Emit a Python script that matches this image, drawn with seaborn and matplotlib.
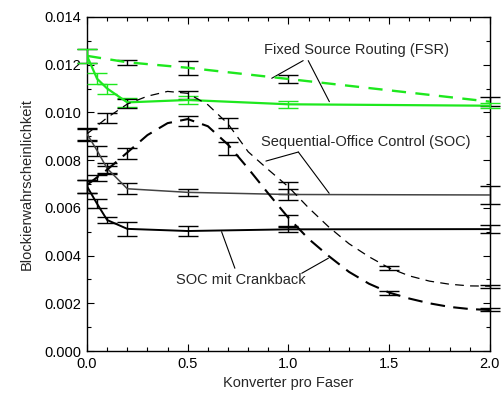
import numpy as np
import pandas as pd
import seaborn as sns
import matplotlib
matplotlib.use("Agg")
import matplotlib.pyplot as plt
from matplotlib.ticker import MultipleLocator, FormatStrFormatter

# curve samples
x_curve = [0.0, 0.1, 0.2, 0.3, 0.4, 0.5, 0.6, 0.7, 0.8, 0.9, 1.0,
           1.1, 1.2, 1.3, 1.4, 1.5, 1.6, 1.7, 1.8, 1.9, 2.0]
soc_dash = [0.00910, 0.00978, 0.01035, 0.01068, 0.01088, 0.01080, 0.01032,
            0.00952, 0.00835, 0.00760, 0.00688, 0.00600, 0.00520, 0.00450,
            0.00395, 0.00348, 0.00315, 0.00293, 0.00280, 0.00273, 0.00272]
crank_dash = [0.00696, 0.00760, 0.00832, 0.00905, 0.00955, 0.00972, 0.00942,
              0.00865, 0.00765, 0.00660, 0.00558, 0.00470, 0.00398, 0.00332,
              0.00282, 0.00245, 0.00220, 0.00200, 0.00185, 0.00176, 0.00172]

# FSR (green)
fsr_dash_x = [0.0, 0.2, 0.5, 1.0, 2.0]
fsr_dash_y = [0.01237, 0.01210, 0.01187, 0.01140, 0.01045]
fsr_dash_err = [0.00029, 0.00010, 0.00030, 0.00017, 0.00019]

fsr_x = [0.0, 0.05, 0.1, 0.2, 0.5, 1.0, 2.0]
fsr_y = [0.01237, 0.01141, 0.01100, 0.01042, 0.01052, 0.01034, 0.01028]
fsr_err = [0.00029, 0.00023, 0.00021, 0.00018, 0.00015, 0.00015, 0.00010]

# SOC solid
soc_x = [0.0, 0.05, 0.1, 0.2, 0.5, 1.0, 2.0]
soc_y = [0.00910, 0.00840, 0.00765, 0.00680, 0.00665, 0.00656, 0.00654]
soc_err = [0.00024, 0.00021, 0.00023, 0.00023, 0.00016, 0.00022, 0.00037]

# SOC mit Crankback solid
crank_x = [0.0, 0.05, 0.1, 0.2, 0.5, 1.0, 2.0]
crank_y = [0.00690, 0.00617, 0.00549, 0.00512, 0.00503, 0.00510, 0.00511]
crank_err = [0.00026, 0.00019, 0.00014, 0.00030, 0.00019, 0.00012, 0.00017]

# error bars on the dashed curves
soc_dash_bx = [0.0, 0.1, 0.2, 0.5, 0.7, 1.0, 1.5, 2.0]
soc_dash_by = [0.00905, 0.00978, 0.01037, 0.01073, 0.00957, 0.00682, 0.00348, 0.00272]
soc_dash_be = [0.00024, 0.00021, 0.00019, 0.00017, 0.00021, 0.00025, 0.00008, 0.00006]

crank_dash_bx = [0.0, 0.05, 0.1, 0.2, 0.5, 0.7, 1.0, 1.5, 2.0]
crank_dash_by = [0.00690, 0.00725, 0.00760, 0.00828, 0.00965, 0.00850, 0.00545, 0.00243, 0.00175]
crank_dash_be = [0.00026, 0.00014, 0.00015, 0.00024, 0.00021, 0.00028, 0.00025, 0.00010, 0.00007]

GREEN = "#1ee81e"

sns.set_style("ticks")
plt.rcParams["font.family"] = ["Liberation Sans", "DejaVu Sans"]

fig = plt.figure(figsize=(5.03, 3.94), dpi=100)
ax = fig.add_axes([0.173, 0.109, 0.801, 0.848])

def bars(x, y, e, color):
    eb = ax.errorbar(x, y, yerr=e, fmt="none", ecolor=color, elinewidth=1.0,
                     capsize=7, capthick=1.0, zorder=3)
    for art in eb.lines[1] + eb.lines[2]:
        art.set_clip_on(False)

bars(fsr_dash_x, fsr_dash_y, fsr_dash_err, "black")
bars(fsr_x, fsr_y, fsr_err, GREEN)
bars(soc_x, soc_y, soc_err, "black")
bars(crank_x, crank_y, crank_err, "black")
bars(soc_dash_bx, soc_dash_by, soc_dash_be, "black")
bars(crank_dash_bx, crank_dash_by, crank_dash_be, "black")

sns.lineplot(x=fsr_dash_x, y=fsr_dash_y, ax=ax, color=GREEN, lw=1.7,
             linestyle=(0, (6, 4)), zorder=4)
sns.lineplot(x=fsr_x, y=fsr_y, ax=ax, color=GREEN, lw=1.6, zorder=4)
sns.lineplot(x=soc_x, y=soc_y, ax=ax, color="#444444", lw=1.1, zorder=4)
sns.lineplot(x=crank_x, y=crank_y, ax=ax, color="black", lw=1.4, zorder=4)
sns.lineplot(x=x_curve, y=soc_dash, ax=ax, color="black", lw=0.9,
             linestyle=(0, (7, 5)), zorder=4)
sns.lineplot(x=x_curve, y=crank_dash, ax=ax, color="black", lw=1.5,
             linestyle=(0, (7, 4)), zorder=4)

# labels with leader lines
def label(text, xt, yt, targets, starts):
    ax.text(xt, yt, text, ha="center", va="center", fontsize=10.5)
    for (sx, sy), (tx, ty) in zip(starts, targets):
        ax.plot([sx, tx], [sy, ty], color="black", lw=0.8)

label("Fixed Source Routing (FSR)", 1.34, 0.01262,
      [(0.917, 0.01143), (1.203, 0.01045)],
      [(1.073, 0.01217), (1.098, 0.01217)])
label("Sequential-Office Control (SOC)", 1.385, 0.00878,
      [(0.888, 0.00796), (1.202, 0.00661)],
      [(1.049, 0.00834), (1.049, 0.00834)])
label("SOC mit Crankback", 0.764, 0.00298,
      [(0.668, 0.00500), (1.198, 0.00389)],
      [(0.734, 0.00347), (1.066, 0.00326)])

ax.set_xlim(0, 2.0)
ax.set_ylim(0, 0.014)
ax.xaxis.set_major_locator(MultipleLocator(0.5))
ax.xaxis.set_minor_locator(MultipleLocator(0.1))
ax.yaxis.set_major_locator(MultipleLocator(0.002))
ax.yaxis.set_minor_locator(MultipleLocator(0.001))
ax.xaxis.set_major_formatter(FormatStrFormatter("%.1f"))
ax.yaxis.set_major_formatter(FormatStrFormatter("%.3f"))
ax.tick_params(which="both", direction="in", top=True, right=True,
               labelsize=10.5, width=0.8, colors="black")
ax.tick_params(which="major", length=5, pad=4)
ax.tick_params(which="minor", length=3)
for s in ax.spines.values():
    s.set_linewidth(1.0)
    s.set_color("black")

ax.set_xlabel("Konverter pro Faser", fontsize=10.5, labelpad=4)
ax.set_ylabel("Blockierwahrscheinlichkeit", fontsize=10.5, labelpad=8)

fig.savefig("out.png", dpi=100)
